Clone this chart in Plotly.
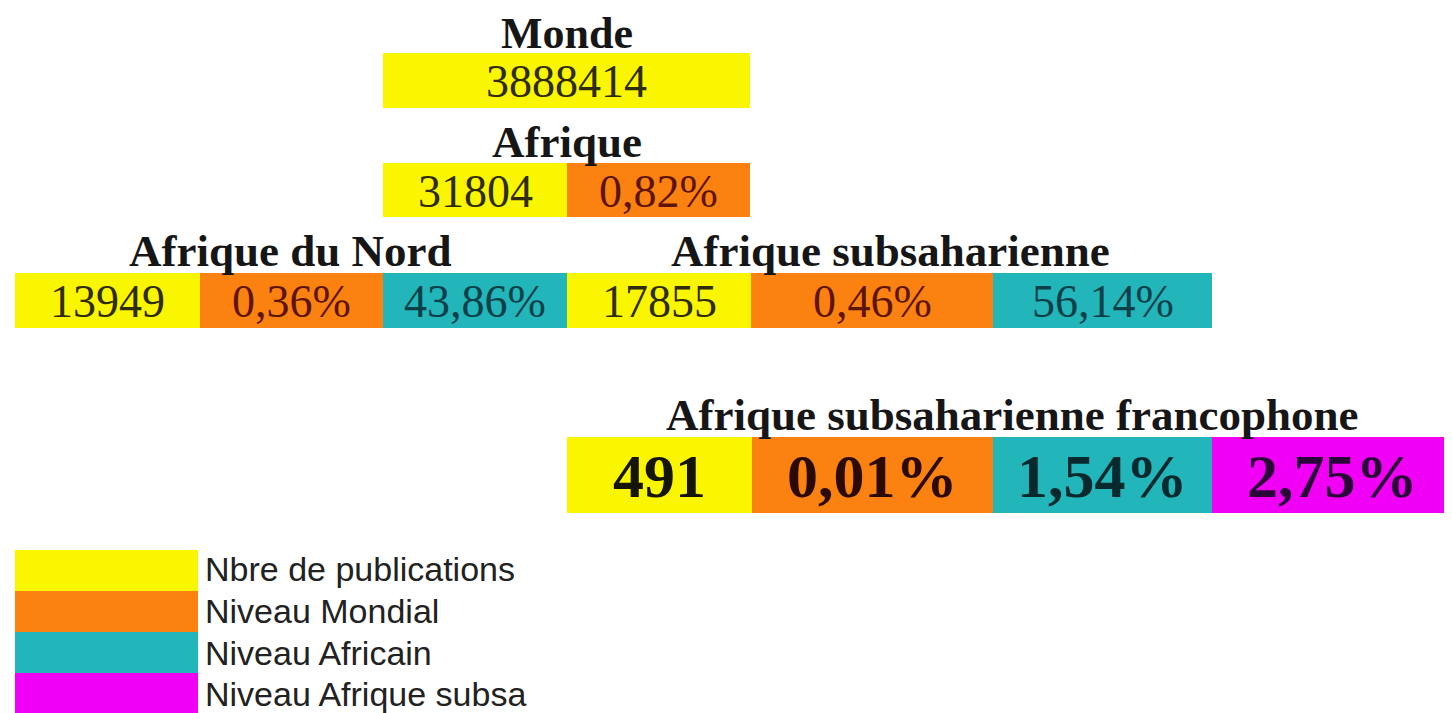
import plotly.graph_objects as go

# ---------------- data ----------------
levels = ["Monde", "Afrique", "Afrique du Nord", "Afrique subsaharienne",
          "Afrique subsaharienne francophone"]
publications = [3888414, 31804, 13949, 17855, 491]
niveau_mondial = [None, "0,82%", "0,36%", "0,46%", "0,01%"]
niveau_africain = [None, None, "43,86%", "56,14%", "1,54%"]
niveau_subsa = [None, None, None, None, "2,75%"]
legend_labels = ["Nbre de publications", "Niveau Mondial", "Niveau Africain",
                 "Niveau Afrique subsa"]

# ---------------- styles / layout ----------------
fills = ["#FAF600", "#FB8110", "#22B5B9", "#F000F5"]
text_cols = ["#2E2C0A", "#5E1404", "#0C4048", "#3A0648"]
big_cols = ["#151405", "#2A0A02", "#082A2E", "#2A0538"]

geo = [
    dict(lx=567, ly=33, y0=53, y1=108, edges=[383, 750], big=False),
    dict(lx=567, ly=142, y0=163, y1=217, edges=[383, 567, 750], big=False),
    dict(lx=290, ly=251, y0=273, y1=328, edges=[15, 200, 383, 567], big=False),
    dict(lx=890, ly=251, y0=273, y1=328, edges=[567, 751, 993, 1212], big=False),
    dict(lx=1012, ly=415, y0=437, y1=513, edges=[567, 752, 993, 1212, 1452], big=True),
]

PAD = 8  # page body margin
W, H = 1452, 713
fig = go.Figure()
annotations = []

rows = list(zip(publications, niveau_mondial, niveau_africain, niveau_subsa))
for i, (g, vals) in enumerate(zip(geo, rows)):
    cells = [str(vals[0])] + [v for v in vals[1:] if v is not None]
    for j, txt in enumerate(cells):
        x0, x1 = g["edges"][j], g["edges"][j + 1]
        fig.add_trace(go.Bar(
            orientation="h", y=[(g["y0"] + g["y1"]) / 2], x=[x1 - x0], base=[x0],
            width=[g["y1"] - g["y0"]], marker=dict(color=fills[j], line=dict(width=0)),
            hoverinfo="skip", showlegend=False))
        annotations.append(dict(
            x=(x0 + x1) / 2, y=(g["y0"] + g["y1"]) / 2 + 1,
            text=("<b>%s</b>" % txt) if g["big"] else txt,
            showarrow=False, xref="x", yref="y",
            font=dict(family="Liberation Serif", size=62 if g["big"] else 46,
                      color=big_cols[j] if g["big"] else text_cols[j])))
    annotations.append(dict(
        x=g["lx"], y=g["ly"], text="<b>%s</b>" % levels[i], showarrow=False,
        xref="x", yref="y",
        font=dict(family="Liberation Serif", size=44 if i == 0 else 45, color="#161616")))

# legend
leg_y = [550, 591, 632, 673, 713]
leg_text_y = [569, 611, 653, 694]
for k, lab in enumerate(legend_labels):
    y0, y1 = leg_y[k], leg_y[k + 1]
    fig.add_trace(go.Bar(
        orientation="h", y=[(y0 + y1) / 2], x=[198 - 15], base=[15], width=[y1 - y0],
        marker=dict(color=fills[k], line=dict(width=0)), hoverinfo="skip", showlegend=False))
    annotations.append(dict(
        x=203, y=leg_text_y[k], text=lab, showarrow=False, xanchor="left",
        xref="x", yref="y",
        font=dict(family="Liberation Sans", size=34, color="#222222")))

fig.update_layout(
    width=W - PAD, height=H - PAD, margin=dict(l=0, r=0, t=0, b=0),
    paper_bgcolor="white", plot_bgcolor="white", barmode="overlay", bargap=0,
    xaxis=dict(range=[PAD, W], visible=False, fixedrange=True),
    yaxis=dict(range=[H, PAD], visible=False, fixedrange=True),
    annotations=annotations, showlegend=False,
)

fig.write_html("out.html")
